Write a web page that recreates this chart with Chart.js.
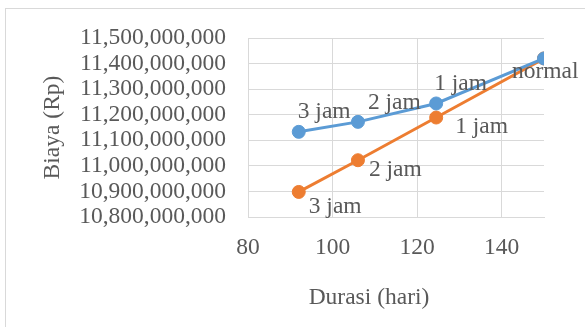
<!DOCTYPE html>
<html>
<head>
<meta charset="utf-8">
<script src="https://cdn.jsdelivr.net/npm/chart.js@4.4.1/dist/chart.umd.min.js"></script>
<style>
  html, body { margin: 0; padding: 0; background: #fff; }
  #wrap { position: relative; width: 585px; height: 327px; overflow: hidden; }
  #frame { position: absolute; left: 5px; top: 8px; width: 600px; height: 340px;
           border-left: 1px solid #D9D9D9; border-top: 1px solid #D9D9D9; box-sizing: border-box; }
  canvas { position: absolute; left: 0; top: 0; }
</style>
</head>
<body>
<div id="wrap">
  <div id="frame"></div>
  <canvas id="c" width="585" height="327"></canvas>
</div>
<script>
// ---- data ----
const durasi = [92, 106, 124.5, 150];
const biayaA = [11133000000, 11172000000, 11244000000, 11420000000];
const biayaB = [10898000000, 11022000000, 11189000000, 11420000000];
const labelsA = ["3 jam", "2 jam", "1 jam", "normal"];
const labelsB = ["3 jam", "2 jam", "1 jam", ""];
const xTitle = "Durasi (hari)";
const yTitle = "Biaya (Rp)";

// label placement relative to each point (left edge offset, vertical offset)
const offA = [[-1, -20], [10, -19], [-2, -20], [-32, 13]];
const offB = [[10, 15], [11, 9.5], [19, 9], [0, 0]];

const FONT = "'Liberation Serif', 'Times New Roman', serif";
const TXT = "#595959";

const labelPlugin = {
  id: 'pointLabels',
  afterDatasetsDraw(chart) {
    const ctx = chart.ctx;
    ctx.save();
    ctx.font = "23.5px " + FONT;
    ctx.fillStyle = TXT;
    ctx.textBaseline = "middle";
    ctx.textAlign = "left";
    const sets = [[labelsA, offA], [labelsB, offB]];
    sets.forEach(([labs, offs], di) => {
      const meta = chart.getDatasetMeta(di);
      meta.data.forEach((pt, i) => {
        if (!labs[i]) return;
        ctx.fillText(labs[i], pt.x + offs[i][0], pt.y + offs[i][1]);
      });
    });
    // axis titles
    ctx.textAlign = "center";
    const ca = chart.chartArea;
    ctx.fillText(xTitle, ca.left + 121, 298);
    ctx.translate(53, (ca.top + ca.bottom) / 2);
    ctx.rotate(-Math.PI / 2);
    ctx.fillText(yTitle, 0, 0);
    ctx.restore();
  }
};

new Chart(document.getElementById('c'), {
  type: 'line',
  data: {
    datasets: [
      {
        data: durasi.map((x, i) => ({ x, y: biayaA[i] })),
        borderColor: '#5B9BD5', backgroundColor: '#5B9BD5',
        borderWidth: 3, pointRadius: 6.5, pointBorderWidth: 1,
        pointBackgroundColor: '#5B9BD5', pointBorderColor: '#5B9BD5',
        tension: 0
      },
      {
        data: durasi.map((x, i) => ({ x, y: biayaB[i] })),
        borderColor: '#ED7D31', backgroundColor: '#ED7D31',
        borderWidth: 3, pointRadius: 6.5, pointBorderWidth: 1,
        pointBackgroundColor: '#ED7D31', pointBorderColor: '#ED7D31',
        tension: 0
      }
    ]
  },
  options: {
    responsive: false,
    animation: false,
    layout: { padding: { left: 0, right: 41, top: 38, bottom: 0 } },
    plugins: { legend: { display: false }, tooltip: { enabled: false } },
    scales: {
      x: {
        type: 'linear', min: 80, max: 150,
        ticks: { stepSize: 20, includeBounds: false, padding: 17, color: TXT,
                 font: { family: FONT, size: 23.5 } },
        grid: { color: '#D9D9D9', lineWidth: 1, drawTicks: false },
        border: { color: '#D9D9D9' },
        afterFit: s => { s.height = 110; }
      },
      y: {
        min: 10800000000, max: 11500000000,
        ticks: { stepSize: 100000000, autoSkip: false, padding: 22, color: TXT,
                 font: { family: FONT, size: 23.5, lineHeight: 1 },
                 callback: v => Number(v).toLocaleString('en-US') },
        grid: { color: '#D9D9D9', lineWidth: 1, drawTicks: false },
        border: { color: '#D9D9D9' },
        afterFit: s => { s.width = 248; }
      }
    }
  },
  plugins: [labelPlugin]
});
</script>
</body>
</html>
